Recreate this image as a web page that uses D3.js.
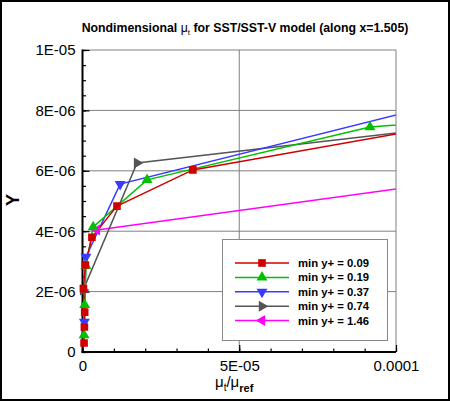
<!DOCTYPE html>
<html>
<head>
<meta charset="utf-8">
<script src="https://cdn.jsdelivr.net/npm/d3@7"></script>
<style>
body { margin: 0; background: #fff; }
svg { display: block; font-family: "Liberation Sans", Arial, sans-serif; }
</style>
</head>
<body>
<script>
// chart size
var w = 450;
var h = 401;

// plot box
var plotL = 82.5, plotR = 396, plotT = 50, plotB = 352;

// data: [mu_t/mu_ref, Y]
var red = [[0.5e-6, 0.3e-6], [0.6e-6, 0.83e-6], [0.7e-6, 1.32e-6], [0.3e-6, 2.1e-6], [0.9e-6, 2.88e-6],
           [3.0e-6, 3.8e-6], [11e-6, 4.83e-6], [35.2e-6, 6.03e-6], [110e-6, 7.40e-6]];
var green = [[0.5e-6, 0.56e-6], [0.7e-6, 1.56e-6], [1.1e-6, 2.85e-6], [3.4e-6, 4.14e-6],
             [20.6e-6, 5.7e-6], [91.7e-6, 7.45e-6], [110e-6, 7.6e-6]];
var blue = [[0.6e-6, 1.0e-6], [1.1e-6, 3.15e-6], [12e-6, 5.56e-6], [110e-6, 8.11e-6]];
var gray = [[0.2e-6, 2.05e-6], [17.4e-6, 6.26e-6], [110e-6, 7.37e-6]];
var magenta = [[4.6e-6, 4.04e-6], [110e-6, 5.54e-6]];

var seriesNames = ["min y+ = 0.09", "min y+ = 0.19", "min y+ = 0.37", "min y+ = 0.74", "min y+ = 1.46"];
var seriesData = [red, green, blue, gray, magenta];
var seriesColors = ["#d00000", "#00c000", "#3a3aff", "#555555", "#ff00ff"];
var seriesShapes = ["square", "up", "down", "right", "left"];

var xTicks = [0, 5e-5, 1e-4];
var xTickLabels = ["0", "5E-05", "0.0001"];
var yTicks = [0, 2e-6, 4e-6, 6e-6, 8e-6, 1e-5];
var yTickLabels = ["0", "2E-06", "4E-06", "6E-06", "8E-06", "1E-05"];

var xScale = d3.scaleLinear().domain([0, 1e-4]).range([plotL, plotR]);
var yScale = d3.scaleLinear().domain([0, 1e-5]).range([plotB, plotT]);

var svg = d3.select("body").append("svg")
    .attr("width", w)
    .attr("height", h);

svg.append("rect").attr("width", w).attr("height", h).attr("fill", "#fff");

svg.append("defs").append("clipPath").attr("id", "plotclip")
  .append("rect")
    .attr("x", plotL - 10).attr("y", plotT)
    .attr("width", plotR - plotL + 10).attr("height", plotB - plotT + 10);

// grid lines (they also make the top and right frame)
svg.selectAll("line.gy")
   .data(yTicks.slice(1))
   .enter()
   .append("line")
   .attr("class", "gy")
   .attr("x1", plotL).attr("x2", plotR)
   .attr("y1", function(d) { return yScale(d); })
   .attr("y2", function(d) { return yScale(d); })
   .attr("stroke", "#808080")
   .attr("stroke-width", 1);

svg.selectAll("line.gx")
   .data(xTicks.slice(1))
   .enter()
   .append("line")
   .attr("class", "gx")
   .attr("y1", plotT).attr("y2", plotB)
   .attr("x1", function(d) { return xScale(d); })
   .attr("x2", function(d) { return xScale(d); })
   .attr("stroke", "#808080")
   .attr("stroke-width", 1);

// axes
function fmt(labels, ticks) {
  return function(d) { return labels[ticks.indexOf(d)]; };
}

var yMinor = d3.axisLeft(yScale).tickValues(d3.range(0, 1.0001e-5, 5e-7)).tickFormat("").tickSize(-3.5).tickSizeOuter(0);
var xMinor = d3.axisBottom(xScale).tickValues(d3.range(0, 1.0001e-4, 1e-5)).tickFormat("").tickSize(-3.5).tickSizeOuter(0);
var yAxis = d3.axisLeft(yScale).tickValues(yTicks).tickFormat(fmt(yTickLabels, yTicks)).tickSize(-7).tickSizeOuter(0).tickPadding(7);
var xAxis = d3.axisBottom(xScale).tickValues(xTicks).tickFormat(fmt(xTickLabels, xTicks)).tickSize(-7).tickSizeOuter(0).tickPadding(8);

[yMinor, yAxis].forEach(function(ax) {
  svg.append("g").attr("transform", "translate(" + plotL + ",0)").call(ax);
});
[xMinor, xAxis].forEach(function(ax) {
  svg.append("g").attr("transform", "translate(0," + plotB + ")").call(ax);
});

svg.selectAll(".domain").remove();
svg.selectAll(".tick line").attr("stroke", "#000").attr("stroke-width", 1.2);
svg.selectAll(".tick text")
   .attr("font-size", 15)
   .attr("fill", "#000")
   .attr("font-family", "'Liberation Sans', Arial, sans-serif");

svg.append("line").attr("x1", plotL).attr("x2", plotL).attr("y1", plotT - 0.5).attr("y2", plotB + 1)
   .attr("stroke", "#000").attr("stroke-width", 2);
svg.append("line").attr("x1", plotL - 1).attr("x2", plotR).attr("y1", plotB).attr("y2", plotB)
   .attr("stroke", "#000").attr("stroke-width", 2);

// markers
function symbolFor(shape) {
  if (shape === "square") return d3.symbol().type(d3.symbolSquare).size(58);
  return d3.symbol().type(d3.symbolTriangle).size(52);
}
var rot = { square: 0, up: 0, down: 180, right: 90, left: -90 };

var line = d3.line()
    .x(function(d) { return xScale(d[0]); })
    .y(function(d) { return yScale(d[1]); });

var plot = svg.append("g").attr("clip-path", "url(#plotclip)");

// lines (last series underneath)
for (var i = seriesData.length - 1; i >= 0; i--) {
  plot.append("path")
      .datum(seriesData[i])
      .attr("d", line)
      .attr("fill", "none")
      .attr("stroke", seriesColors[i])
      .attr("stroke-width", 1.5);
}

for (var j = seriesData.length - 1; j >= 0; j--) {
  (function(k) {
    plot.selectAll("path.m" + k)
        .data(seriesData[k].filter(function(d) { return d[0] <= 1e-4; }))
        .enter()
        .append("path")
        .attr("class", "m" + k)
        .attr("d", symbolFor(seriesShapes[k]))
        .attr("transform", function(d) {
          return "translate(" + xScale(d[0]) + "," + yScale(d[1]) + ") rotate(" + rot[seriesShapes[k]] + ")";
        })
        .attr("fill", seriesColors[k]);
  })(j);
}

// legend
var lg = svg.append("g");
lg.append("rect")
  .attr("x", 222.5).attr("y", 239.5)
  .attr("width", 165).attr("height", 101)
  .attr("fill", "#fff")
  .attr("stroke", "#888")
  .attr("stroke-width", 1);

var rows = lg.selectAll("g.row")
   .data(seriesNames)
   .enter()
   .append("g")
   .attr("transform", function(d, i) { return "translate(0," + (263 + i * 14.4) + ")"; });

rows.append("line")
    .attr("x1", 235).attr("x2", 289)
    .attr("stroke", function(d, i) { return seriesColors[i]; })
    .attr("stroke-width", 1.5);
rows.append("path")
    .attr("d", function(d, i) { return symbolFor(seriesShapes[i])(); })
    .attr("transform", function(d, i) { return "translate(262,0) rotate(" + rot[seriesShapes[i]] + ")"; })
    .attr("fill", function(d, i) { return seriesColors[i]; });
rows.append("text")
    .attr("x", 298).attr("y", 4)
    .attr("font-size", 11.3)
    .attr("font-weight", "bold")
    .text(function(d) { return d; });

// title
var title = svg.append("text")
   .attr("x", 245).attr("y", 32)
   .attr("text-anchor", "middle")
   .attr("font-size", 12.3)
   .attr("font-weight", "bold");
title.append("tspan").text("Nondimensional ");
title.append("tspan").attr("font-weight", "normal").text("\u03bc");
title.append("tspan").attr("font-weight", "normal").attr("font-size", 8).attr("dy", 3).text("t");
title.append("tspan").attr("dy", -3).text(" for SST/SST-V model (along x=1.505)");

// axis titles
svg.append("text")
   .attr("transform", "translate(19,200) rotate(-90)")
   .attr("text-anchor", "middle")
   .attr("font-size", 18)
   .attr("font-weight", "bold")
   .text("Y");

var xt = svg.append("text")
   .attr("x", 215).attr("y", 387)
   .attr("font-size", 15);
xt.append("tspan").text("\u03bc");
xt.append("tspan").attr("font-size", 10).attr("dy", 4).text("t");
xt.append("tspan").attr("dy", -4).text("/\u03bc");
xt.append("tspan").attr("font-size", 11).attr("font-weight", "bold").attr("dy", 5).text("ref");

// outer frame
svg.append("rect")
   .attr("x", 1).attr("y", 1)
   .attr("width", w - 2).attr("height", h - 2)
   .attr("fill", "none")
   .attr("stroke", "#000")
   .attr("stroke-width", 2);
</script>
</body>
</html>
